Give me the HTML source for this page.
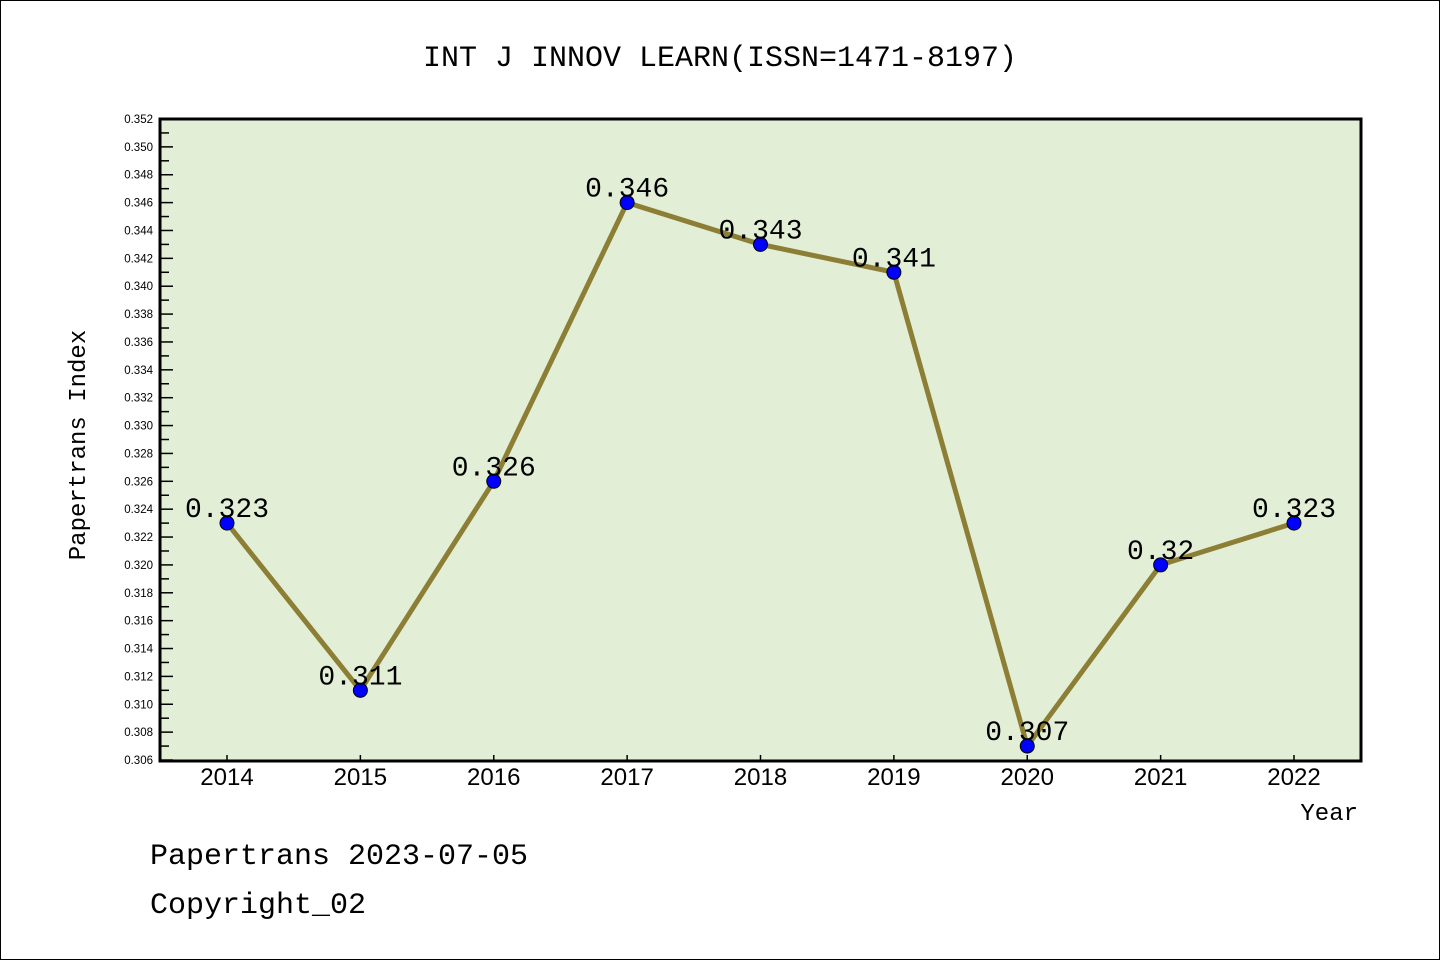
<!DOCTYPE html>
<html><head><meta charset="utf-8"><style>
body{margin:0;background:#fff}
svg text{font-family:"Liberation Sans","WenQuanYi Zen Hei",sans-serif}
.mono{font-family:"WenQuanYi Zen Hei","Liberation Mono",monospace}
</style></head><body>
<svg id="c" width="1440" height="960" xmlns="http://www.w3.org/2000/svg">
<rect x="0.5" y="0.5" width="1439" height="959" fill="#fff" stroke="#000"/>
<text class="mono" x="720" y="66" font-size="30" text-anchor="middle">INT J INNOV LEARN(ISSN=1471-8197)</text>
<rect x="160" y="119" width="1201" height="642" fill="#e2efd6"/>
<g id="ticks"></g>
<g id="series"></g>
<rect x="160" y="119" width="1201" height="642" fill="none" stroke="#000" stroke-width="3"/>
<text class="mono" transform="translate(85,445) rotate(-90)" font-size="24" text-anchor="middle">Papertrans Index</text>
<text class="mono" x="1358" y="820" font-size="24" text-anchor="end">Year</text>
<text class="mono" x="150" y="864" font-size="30">Papertrans 2023-07-05</text>
<text class="mono" x="150" y="913" font-size="30">Copyright_02</text>
</svg>
<script>
const years=[2014,2015,2016,2017,2018,2019,2020,2021,2022];
const values=[0.323,0.311,0.326,0.346,0.343,0.341,0.307,0.32,0.323];
const labels=["0.323","0.311","0.326","0.346","0.343","0.341","0.307","0.32","0.323"];
const yMin=0.306,yMax=0.352;
const NS="http://www.w3.org/2000/svg";
function X(i){return 227+i*(1294-227)/(years.length-1);}
function Y(v){return 760-(v-yMin)/(yMax-yMin)*641;}
function mk(t,a,p){const e=document.createElementNS(NS,t);for(const k in a)e.setAttribute(k,a[k]);p.appendChild(e);return e;}
const tg=document.getElementById('ticks'),sg=document.getElementById('series');
for(let k=0;k<=46;k++){
 const v=yMin+k*0.001,y=Y(v),maj=k%2==0;
 const l=mk('line',{x1:160,x2:maj?173:169,y1:y,y2:y,stroke:'#000','stroke-width':1.5},tg);
 
 
 if(maj){const t=mk('text',{x:153,y:y+4,'font-size':11.5,'text-anchor':'end'},tg);t.textContent=v.toFixed(3);
 
 }
}
years.forEach((yr,i)=>{
 const x=X(i);
 const l=mk('line',{x1:x,x2:x,y1:761,y2:755,stroke:'#000','stroke-width':1.5},tg);
 
 
 const t=mk('text',{x:x,y:785,'font-size':24,'text-anchor':'middle'},tg);t.textContent=yr;
 
 
});
const pl=mk('polyline',{points:values.map((v,i)=>X(i)+','+Y(v)).join(' '),fill:'none',stroke:'#8c7f35','stroke-width':5},sg);


values.forEach((v,i)=>{
 const c=mk('circle',{cx:X(i),cy:Y(v),r:7,fill:'#0000ff',stroke:'#000','stroke-width':1},sg);
 
 
 const t=mk('text',{x:X(i),y:Y(v)-6,'font-size':28,'text-anchor':'middle','class':'mono'},sg);t.textContent=labels[i];
 
 
});
</script>
</body></html>
